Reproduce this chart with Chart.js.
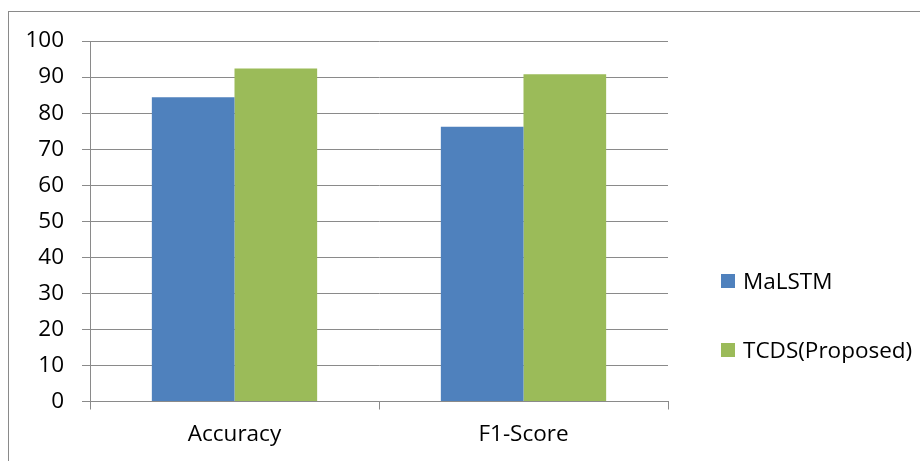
<!DOCTYPE html>
<html>
<head>
<meta charset="utf-8">
<script src="https://cdn.jsdelivr.net/npm/chart.js@4/dist/chart.umd.min.js"></script>
<style>
    html, body { margin: 0; padding: 0; background: #fff; }
    #wrap { position: relative; width: 920px; height: 461px; overflow: hidden; }
    #frame { position: absolute; left: 8px; top: 11px; width: 940px; height: 480px; border: 1px solid #8a8a8a; }
    #chart { position: absolute; left: 0; top: 0; }
    #legend { position: absolute; left: 721px; top: 266px; font-family: 'Open Sans', sans-serif; font-size: 22.5px; color: #000; }
    .item { position: relative; height: 30px; line-height: 30px; padding-left: 22px; white-space: nowrap; }
    .item + .item { margin-top: 39px; }
    .box { position: absolute; left: 0; top: 8px; width: 14px; height: 14px; }
</style>
</head>
<body>
<div id="wrap">
    <div id="frame"></div>
    <canvas id="chart" width="920" height="461"></canvas>
    <div id="legend"></div>
</div>
<script>
// Chart data
const categories = ['Accuracy', 'F1-Score'];
const seriesNames = ['MaLSTM', 'TCDS(Proposed)'];
const malstmValues = [84.4, 76.2];
const tcdsValues = [92.4, 90.8];
const yTicks = [0, 10, 20, 30, 40, 50, 60, 70, 80, 90, 100];

const colors = ['#4F81BD', '#9BBB59'];
const gridColor = '#8a8a8a';
const font = { family: "'Open Sans', sans-serif", size: 22.5 };

const datasets = [malstmValues, tcdsValues].map(function (vals, i) {
    return {
        label: seriesNames[i],
        data: vals,
        backgroundColor: colors[i],
        borderWidth: 0,
        categoryPercentage: 0.572,
        barPercentage: 1.0
    };
});

var ctx = document.getElementById('chart').getContext('2d');
new Chart(ctx, {
    type: 'bar',
    data: { labels: categories, datasets: datasets },
    options: {
        responsive: false,
        animation: false,
        layout: { padding: { left: 0, top: 41, right: 252, bottom: 0 } },
        plugins: {
            legend: { display: false },
            tooltip: { enabled: false }
        },
        scales: {
            x: {
                offset: true,
                grid: {
                    display: true,
                    drawOnChartArea: false,
                    offset: true,
                    color: gridColor,
                    tickLength: 8
                },
                border: { color: gridColor, width: 1 },
                ticks: { color: '#000', font: font, padding: 12 },
                afterFit: function (scale) { scale.height = 59.5; }
            },
            y: {
                min: 0,
                max: 100,
                afterBuildTicks: function (scale) {
                    scale.ticks = yTicks.map(function (v) { return { value: v }; });
                },
                grid: { color: gridColor, tickLength: 8 },
                border: { color: gridColor, width: 1 },
                ticks: { color: '#000', font: font, padding: 18 },
                afterFit: function (scale) { scale.width = 90; }
            }
        }
    }
});

// legend built from the series names and colours
var legend = document.getElementById('legend');
seriesNames.forEach(function (name, i) {
    var item = document.createElement('div');
    item.className = 'item';
    var box = document.createElement('span');
    box.className = 'box';
    box.style.background = colors[i];
    item.appendChild(box);
    item.appendChild(document.createTextNode(name));
    legend.appendChild(item);
});
</script>
</body>
</html>
